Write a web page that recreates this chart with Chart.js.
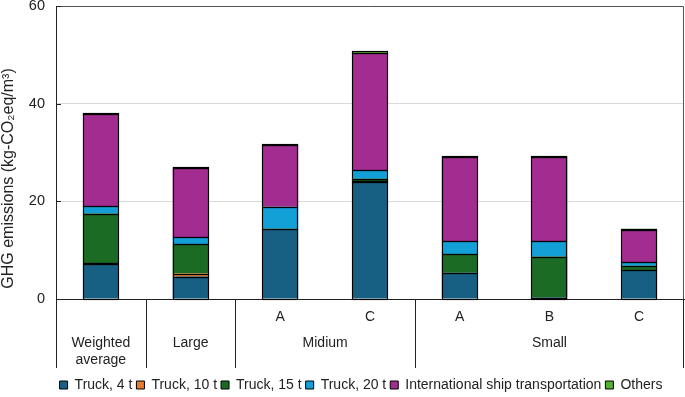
<!DOCTYPE html>
<html>
<head>
<meta charset="utf-8">
<script src="https://cdn.jsdelivr.net/npm/chart.js@4/dist/chart.umd.min.js"></script>
<style>
  html, body { margin: 0; padding: 0; background: #fff; }
  #wrap { width: 685px; height: 397px; }
</style>
</head>
<body>
<div id="wrap"><canvas id="ghgChart"></canvas></div>
<script>
// sub labels per bar and the group they belong to
const subLabels = ['', '', 'A', 'C', 'A', 'B', 'C'];
const groupNames = [['Weighted', 'average'], ['Large'], ['Midium'], ['Small']];
const groupStart = [0, 1, 2, 4];
const groupEnd = [0, 1, 3, 6];

const truck4 = [7.2, 4.6, 14.3, 24.0, 5.4, 0.3, 5.9];
const truck10 = [0.1, 0.6, 0.0, 0.1, 0.0, 0.0, 0.0];
const truck15 = [10.2, 6.0, 0.1, 0.5, 3.8, 8.4, 0.9];
const truck20 = [1.5, 1.5, 4.5, 1.8, 2.6, 3.1, 0.8];
const shipping = [18.8, 14.2, 12.7, 24.0, 17.2, 17.3, 6.5];
const others = [0.2, 0.1, 0.1, 0.3, 0.2, 0.1, 0.3];

const yTicks = [0, 20, 40, 60];
const yTitle = 'GHG emissions (kg-CO\u2082eq/m\u00b3)';

const FONT = '"Liberation Sans", Arial, sans-serif';

function makeSet(label, data, color) {
    return {
        label: label,
        data: data,
        backgroundColor: color,
        borderColor: '#000',
        borderWidth: 0,
        categoryPercentage: 1.0,
        barPercentage: 0.4
    };
}

// excel-like outlines: every stacked segment gets a full black edge, even tiny ones
const barOutlines = {
    id: 'barOutlines',
    afterDatasetsDraw(chart) {
        const ctx = chart.ctx;
        ctx.save();
        ctx.strokeStyle = '#000';
        ctx.lineWidth = 1.15;
        chart.data.datasets.forEach((ds, i) => {
            chart.getDatasetMeta(i).data.forEach(bar => {
                const p = bar.getProps(['x', 'y', 'base', 'width'], true);
                const l = Math.round(p.x - p.width / 2) + 0.5;
                const r = Math.round(p.x + p.width / 2) - 0.5;
                const t = Math.round(p.y) + 0.5;
                const b = Math.round(p.base) + 0.5;
                ctx.strokeRect(l, t, r - l, b - t);
            });
        });
        ctx.restore();
    }
};

// draws the two-level category axis, y title, inside ticks and the plot frame
const groupAxis = {
    id: 'groupAxis',
    afterLayout(chart) {
        // nudge legend to sit under the plot like the original
        const lg = chart.legend;
        lg.top += 5; lg.bottom += 5;
        lg.left += 19; lg.right += 19;
    },
    afterDraw(chart) {
        const ctx = chart.ctx;
        const x = chart.scales.x;
        const y = chart.scales.y;
        const area = chart.chartArea;
        const step = x.getPixelForValue(1) - x.getPixelForValue(0);
        ctx.save();
        // frame top/right
        ctx.strokeStyle = '#555';
        ctx.lineWidth = 1;
        ctx.beginPath();
        ctx.moveTo(area.left, area.top + 0.5);
        ctx.lineTo(area.right - 0.5, area.top + 0.5);
        ctx.lineTo(area.right - 0.5, area.bottom);
        ctx.stroke();

        // inside tick marks on y
        ctx.strokeStyle = '#222';
        yTicks.forEach(v => {
            const py = Math.round(y.getPixelForValue(v)) + 0.5;
            ctx.beginPath();
            ctx.moveTo(area.left, py);
            ctx.lineTo(area.left + 5, py);
            ctx.stroke();
        });

        // separators
        const sepBottom = area.bottom + 69;
        const bounds = [x.getPixelForValue(0) - step / 2];
        groupEnd.forEach(e => bounds.push(x.getPixelForValue(e) + step / 2));
        bounds.forEach((bx, i) => {
            let px = Math.round(bx) + 0.5;
            if (i === bounds.length - 1) px = area.right - 0.5;
            ctx.beginPath();
            ctx.moveTo(px, area.bottom);
            ctx.lineTo(px, sepBottom);
            ctx.stroke();
        });

        ctx.fillStyle = '#222';
        ctx.font = '14px ' + FONT;
        ctx.textAlign = 'center';
        ctx.textBaseline = 'middle';
        subLabels.forEach((s, i) => {
            if (s) ctx.fillText(s, x.getPixelForValue(i), area.bottom + 18);
        });
        groupNames.forEach((lines, g) => {
            const cx = (x.getPixelForValue(groupStart[g]) + x.getPixelForValue(groupEnd[g])) / 2;
            lines.forEach((t, k) => ctx.fillText(t, cx, area.bottom + 44 + k * 17));
        });

        // y axis title
        ctx.font = '16px ' + FONT;
        ctx.translate(9, (area.top + area.bottom) / 2 + 26);
        ctx.rotate(-Math.PI / 2);
        ctx.fillText(yTitle, 0, 0);
        ctx.restore();
    }
};

new Chart(document.getElementById('ghgChart'), {
    type: 'bar',
    data: {
        labels: subLabels,
        datasets: [
            makeSet('Truck, 4 t', truck4, '#186083'),
            makeSet('Truck, 10 t', truck10, '#e97b30'),
            makeSet('Truck, 15 t', truck15, '#1c6b25'),
            makeSet('Truck, 20 t', truck20, '#13a0d7'),
            makeSet('International ship transportation', shipping, '#a22c90'),
            makeSet('Others', others, '#52b035')
        ]
    },
    options: {
        responsive: true,
        maintainAspectRatio: false,
        animation: false,
        layout: { padding: { top: 6, right: 1, left: 0, bottom: 0 } },
        plugins: {
            legend: {
                position: 'bottom',
                labels: {
                    boxWidth: 8,
                    boxHeight: 8,
                    padding: 4,
                    color: '#222',
                    font: { family: FONT, size: 14, lineHeight: 1 },
                    generateLabels(chart) {
                        const items = Chart.defaults.plugins.legend.labels.generateLabels(chart);
                        items.forEach(it => { it.lineWidth = 1; it.strokeStyle = '#000'; });
                        return items;
                    }
                }
            },
            tooltip: { enabled: false }
        },
        scales: {
            x: {
                stacked: true,
                ticks: { display: false },
                grid: { display: false, drawTicks: false },
                border: { display: true, color: '#222', width: 1 },
                afterFit(scale) { scale.height = 70; }
            },
            y: {
                stacked: true,
                min: 0,
                max: 60,
                afterBuildTicks(scale) { scale.ticks = yTicks.map(v => ({ value: v })); },
                ticks: {
                    color: '#222',
                    font: { family: FONT, size: 14.5, lineHeight: 1 },
                    padding: 11
                },
                grid: {
                    color: '#d9d9d9',
                    drawTicks: false
                },
                border: { display: true, color: '#222', width: 1 },
                afterFit(scale) {
                    scale.width = 56;
                    scale.paddingTop = 0;
                    scale.paddingBottom = 0;
                }
            }
        }
    },
    plugins: [barOutlines, groupAxis]
});
</script>
</body>
</html>
